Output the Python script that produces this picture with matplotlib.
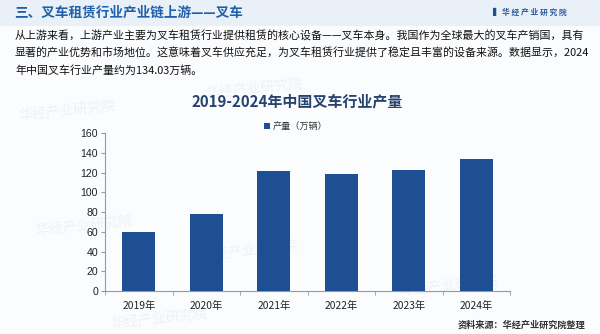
import matplotlib.pyplot as plt
from matplotlib.patches import Rectangle

plt.rcParams['font.family'] = ['Noto Sans CJK SC', 'DejaVu Sans']

years = ['2019年', '2020年', '2021年', '2022年', '2023年', '2024年']
output = [60.2, 78.0, 122.2, 118.3, 122.8, 134.03]
yticks = [0, 20, 40, 60, 80, 100, 120, 140, 160]

header = '三、叉车租赁行业产业链上游——叉车'
body = ['从上游来看，上游产业主要为叉车租赁行业提供租赁的核心设备——叉车本身。我国作为全球最大的叉车产销国，具有',
        '显著的产业优势和市场地位。这意味着叉车供应充足，为叉车租赁行业提供了稳定且丰富的设备来源。数据显示，2024',
        '年中国叉车行业产量约为134.03万辆。']
chart_title = '2019-2024年中国叉车行业产量'
series_name = '产量（万辆）'
source = '资料来源：华经产业研究院整理'
watermark = '华经产业研究院'

bar_color = '#1e4f93'
W, H = 600, 334

fig = plt.figure(figsize=(6, 3.34), dpi=100)
fig.patch.set_facecolor('#fbfcfe')

# header band
fig.patches.append(Rectangle((0, 1 - 26 / H), 1, 26 / H, transform=fig.transFigure,
                             facecolor='#eaf0f7', edgecolor='none', zorder=-2))
fig.text(14 / W, 1 - 13 / H, header, fontsize=9.8, fontweight='bold', color='#2060aa',
         va='center', ha='left')
fig.text(495 / W, 1 - 12 / H, '▌', fontsize=6, color='#1e4f93', va='center', ha='center',
         family=['DejaVu Sans'])
fig.text(502 / W, 1 - 12 / H, '华 经 产 业 研 究 院', fontsize=5.6, fontweight='bold',
         color='#2b5a9c', va='center', ha='left')

for i, line in enumerate(body):
    fig.text(15 / W, 1 - (35 + i * 17.6) / H, line, fontsize=7.9, color='#111111',
             va='center', ha='left')

# faint watermarks, kept behind the bars
for x, y in [(18, 110), (205, 88), (200, 250), (35, 225), (110, 318), (400, 285)]:
    fig.text(x / W, 1 - y / H, watermark, fontsize=10, color='#edf1f7',
             rotation=6, va='center', ha='left', zorder=-1)

fig.text(297 / W, 1 - 101.5 / H, chart_title, fontsize=10.8, fontweight='bold',
         color='#26436e', va='center', ha='center')

ax = fig.add_axes([105 / W, 1 - 291 / H, 405 / W, (291 - 133.3) / H])
ax.set_facecolor('none')
ax.bar(range(len(years)), output, width=0.49, color=bar_color, label=series_name, zorder=3)
ax.set_xlim(-0.5, len(years) - 0.5)
ax.set_ylim(0, 160)
ax.set_yticks(yticks)
ax.set_yticklabels([str(t) for t in yticks], fontsize=7.6, color='#222222',
                   family=['Liberation Sans', 'DejaVu Sans'])
ax.set_xticks(range(len(years)))
ax.set_xticklabels(years, fontsize=7.4, color='#222222')
ax.set_xticks([i + 0.5 for i in range(-1, len(years))], minor=True)
ax.tick_params(axis='x', which='major', length=0, pad=7)
ax.tick_params(axis='x', which='minor', length=3, color='#999999')
ax.tick_params(axis='y', length=3, color='#999999', pad=2)
for s in ['top', 'right']:
    ax.spines[s].set_visible(False)
for s in ['left', 'bottom']:
    ax.spines[s].set_color('#999999')
    ax.spines[s].set_linewidth(0.8)

leg = fig.legend(loc='center left', bbox_to_anchor=(264 / W, 1 - 126.5 / H), frameon=False,
                 fontsize=6.6, handlelength=0.6, handleheight=0.6, handletextpad=0.4,
                 borderaxespad=0, borderpad=0)
for t in leg.get_texts():
    t.set_color('#333333')

fig.text(585 / W, 1 - 325 / H, source, fontsize=6.6, fontweight='bold', color='#333333',
         va='center', ha='right')

fig.savefig('out.png', dpi=100, facecolor=fig.get_facecolor())
